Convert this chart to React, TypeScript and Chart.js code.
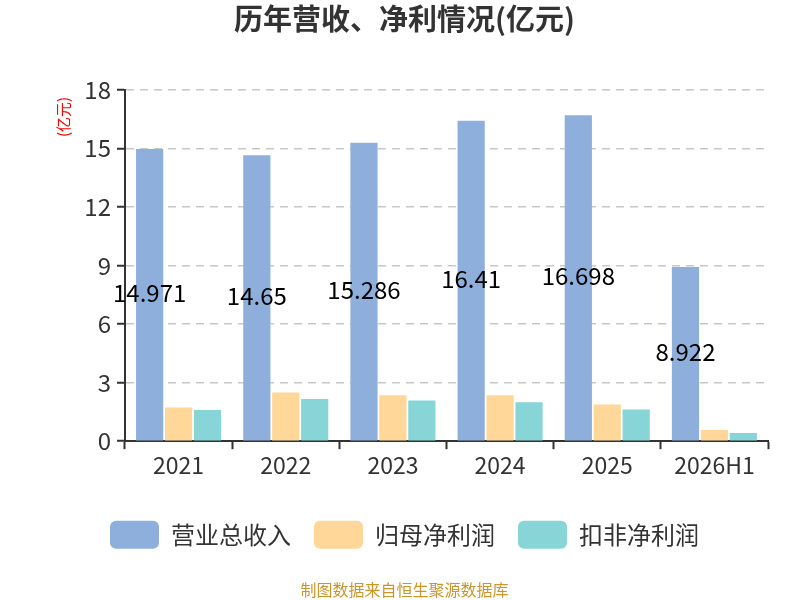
import React, { useEffect, useRef } from "react";
import { Chart, registerables } from "chart.js";

Chart.register(...registerables);

const categories = ["2021", "2022", "2023", "2024", "2025", "2026H1"];
const revenue = [14.971, 14.65, 15.286, 16.41, 16.698, 8.922];
const netProfit = [1.73, 2.5, 2.36, 2.36, 1.88, 0.58];
const deductedProfit = [1.6, 2.16, 2.09, 1.99, 1.62, 0.42];
const seriesNames = ["营业总收入", "归母净利润", "扣非净利润"];
const yTicks = [0, 3, 6, 9, 12, 15, 18];

const FONT = "'Noto Sans CJK SC', 'Noto Sans', sans-serif";

const valueLabelPlugin = {
  id: "valueLabels",
  afterDatasetsDraw(chart: any) {
    const ctx = chart.ctx;
    const meta = chart.getDatasetMeta(0);
    ctx.save();
    ctx.font = `24px ${FONT}`;
    ctx.fillStyle = "#000";
    ctx.textAlign = "center";
    ctx.textBaseline = "middle";
    meta.data.forEach((bar: any, i: number) => {
      const p = bar.getProps(["x", "y", "base"], true);
      ctx.fillText(String(revenue[i]), p.x, (p.y + p.base) / 2 - 2);
    });
    ctx.restore();
  },
};

const yTitlePlugin = {
  id: "yTitle",
  afterDraw(chart: any) {
    const ctx = chart.ctx;
    ctx.save();
    ctx.translate(63, 117);
    ctx.rotate(-Math.PI / 2);
    ctx.font = `15px ${FONT}`;
    ctx.fillStyle = "#ff0000";
    ctx.textAlign = "center";
    ctx.textBaseline = "middle";
    ctx.fillText("(亿元)", 0, 0);
    ctx.restore();
  },
};

export default function App() {
  const ref = useRef<HTMLCanvasElement>(null);
  useEffect(() => {
    document.body.style.margin = "0";
    const chart = new Chart(ref.current!, {
      type: "bar",
      data: {
        labels: categories,
        datasets: [
          { label: seriesNames[0], data: revenue, backgroundColor: "#8eaedb" },
          { label: seriesNames[1], data: netProfit, backgroundColor: "#ffd899" },
          { label: seriesNames[2], data: deductedProfit, backgroundColor: "#88d5d8" },
        ],
      },
      options: {
        animation: false,
        responsive: false,
        devicePixelRatio: 1,
        layout: { padding: { left: 41, right: 32, top: 0, bottom: 0 } },
        datasets: { bar: { categoryPercentage: 0.81, barPercentage: 0.94 } },
        plugins: {
          title: {
            display: true,
            text: "历年营收、净利情况(亿元)",
            color: "#333",
            font: { family: FONT, size: 29, weight: "bold" },
            padding: { top: 2, bottom: 53 },
          },
          subtitle: {
            display: true,
            position: "bottom",
            text: "制图数据来自恒生聚源数据库",
            color: "#c8962b",
            font: { family: FONT, size: 16 },
            padding: { top: 22, bottom: 0 },
          },
          legend: {
            position: "bottom",
            labels: {
              boxWidth: 49,
              boxHeight: 28,
              useBorderRadius: true,
              borderRadius: 6,
              color: "#333",
              font: { family: FONT, size: 24 },
              padding: 23,
            },
          },
          tooltip: { enabled: false },
        },
        scales: {
          x: {
            grid: { drawOnChartArea: false, drawTicks: true, tickLength: 8, tickColor: "#333", tickWidth: 2 },
            border: { color: "#333", width: 2 },
            ticks: { color: "#333", font: { family: FONT, size: 23 }, padding: 2 },
            afterFit: (axis: any) => {
              axis.height += 17;
            },
          },
          y: {
            min: 0,
            max: 18,
            afterBuildTicks: (axis: any) => {
              axis.ticks = yTicks.map((v) => ({ value: v }));
            },
            afterFit: (axis: any) => {
              axis.width = 84;
            },
            grid: {
              color: "#c8c8c8",
              lineWidth: 1.5,
              drawTicks: true,
              tickLength: 8,
              tickColor: "#333",
              tickWidth: 2,
              tickBorderDash: [],
            },
            border: { color: "#333", width: 2, dash: [8, 6] },
            ticks: { color: "#333", font: { family: FONT, size: 24 }, padding: 6 },
          },
        },
      },
      plugins: [valueLabelPlugin, yTitlePlugin],
    } as any);
    return () => chart.destroy();
  }, []);
  return (
    <div style={{ position: "absolute", left: 0, top: 0, width: 800, height: 600 }}>
      <canvas ref={ref} width={800} height={600} />
    </div>
  );
}
